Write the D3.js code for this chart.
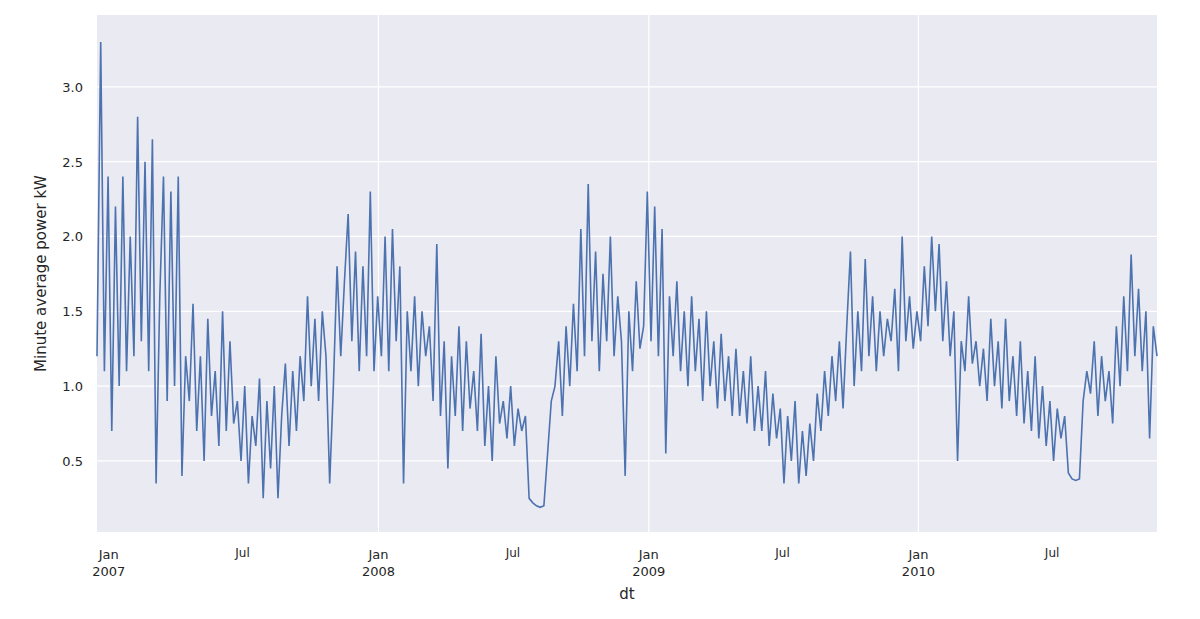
<!DOCTYPE html>
<html><head><meta charset="utf-8">
<script src="https://cdn.jsdelivr.net/npm/d3@7"></script>
<style>body{margin:0;background:#fff}text{font-family:"DejaVu Sans",sans-serif;fill:#262626}</style>
</head><body><svg id="c" width="1200" height="619"></svg>
<script>
// values every 5 days, starting 2006-12-16
var startDate = new Date(2006, 11, 16);
var stepDays = 5;
var kw2007 = [1.2,3.3,1.1,2.4, 0.7,2.2,1.0,2.4,1.1,2.0, 1.2,2.8,1.3,2.5,1.1,2.65, 0.35,1.6,2.4,0.9,
  2.3,1.0,2.4,0.4,1.2,0.9, 1.55,0.7,1.2,0.5,1.45,0.8, 1.1,0.6,1.5,0.7,1.3,0.75, 0.9,0.5,1.0,0.35,0.8,0.6,
  1.05,0.25,0.9,0.45,1.0,0.25, 0.8,1.15,0.6,1.1,0.7,1.2, 0.9,1.6,1.0,1.45,0.9,1.5, 1.2,0.35,1.0,1.8,
  1.2,1.7,2.15,1.3,1.9,1.1, 1.8,1.2,2.3,1.1];
var kw2008 = [1.6,1.2,2.0,1.1,2.05,1.3, 1.8,0.35,1.5,1.1,1.6,1.0, 1.5,1.2,1.4,0.9,1.95,0.8, 1.3,0.45,1.2,0.8,1.4,0.7,
  1.3,0.85,1.1,0.7,1.35,0.6, 1.0,0.5,1.2,0.75,0.9,0.65, 1.0,0.6,0.85,0.7,0.8,0.25, 0.22,0.2,0.19,0.2,0.55,0.9,
  1.0,1.3,0.8,1.4,1.0,1.55, 1.1,2.05,1.2,2.35,1.3,1.9, 1.1,1.75,1.3,2.0,1.2,1.6, 1.3,0.4,1.5,1.1,1.7,1.25,1.4];
var kw2009 = [2.3,1.3,2.2,1.2,2.05,0.55, 1.6,1.2,1.7,1.1,1.5,1.0, 1.6,1.1,1.45,0.9,1.5,1.0, 1.3,0.85,1.35,0.9,1.2,0.8,
  1.25,0.8,1.1,0.75,1.2,0.7, 1.0,0.7,1.1,0.6,0.95,0.65, 0.85,0.35,0.8,0.5,0.9,0.35, 0.7,0.4,0.75,0.5,0.95,0.7,
  1.1,0.8,1.2,0.9,1.3,0.85, 1.4,1.9,1.0,1.5,1.1,1.85, 1.2,1.6,1.1,1.5,1.2,1.45, 1.3,1.65,1.1,2.0,1.3,1.6,1.25];
var kw2010 = [1.5,1.3,1.8,1.4,2.0,1.5, 1.95,1.3,1.7,1.2,1.5,0.5, 1.3,1.1,1.6,1.15,1.3,1.0, 1.25,0.9,1.45,1.0,1.3,0.85,
  1.45,0.9,1.2,0.8,1.3,0.75, 1.1,0.7,1.2,0.65,1.0,0.6, 0.9,0.5,0.85,0.65,0.8,0.42, 0.38,0.37,0.38,0.9,1.1,0.95,
  1.3,0.8,1.2,0.9,1.1,0.75, 1.4,1.0,1.6,1.1,1.88,1.2, 1.65,1.1,1.5,0.65,1.4,1.2];
var yTicks = [0.5, 1.0, 1.5, 2.0, 2.5, 3.0];

var values = kw2007.concat(kw2008, kw2009, kw2010);
var data = values.map(function(v, i) {
  return {d: d3.timeDay.offset(startDate, i * stepDays), v: v};
});

var pl = 97, pr = 1157, pt = 15, pb = 532;
var svg = d3.select("#c");
svg.append("rect").attr("x", pl).attr("y", pt).attr("width", pr - pl).attr("height", pb - pt).attr("fill", "#EAEAF2");

var x = d3.scaleTime().domain([startDate, data[data.length - 1].d]).range([pl, pr]);
var y = d3.scaleLinear().domain([0.025, 3.48]).range([pb, pt]);

var years = d3.timeYear.range(new Date(2007, 0, 1), new Date(2011, 0, 1));
var julys = years.map(function(d) { return new Date(d.getFullYear(), 6, 1); });

svg.selectAll(".hg").data(yTicks).enter().append("line")
  .attr("x1", pl).attr("x2", pr).attr("y1", function(d){return y(d);}).attr("y2", function(d){return y(d);})
  .attr("stroke", "#fff").attr("stroke-width", 1.2);
svg.selectAll(".vg").data(years.filter(function(d){return x(d) > pl + 20;})).enter().append("line")
  .attr("y1", pt).attr("y2", pb).attr("x1", function(d){return x(d);}).attr("x2", function(d){return x(d);})
  .attr("stroke", "#fff").attr("stroke-width", 1.2);

svg.append("path").datum(data)
  .attr("d", d3.line().x(function(d){return x(d.d);}).y(function(d){return y(d.v);}))
  .attr("fill", "none").attr("stroke", "#4C72B0").attr("stroke-width", 1.6);

svg.selectAll(".yt").data(yTicks).enter().append("text")
  .attr("x", pl - 14).attr("y", function(d){return y(d) + 5;})
  .attr("text-anchor", "end").attr("font-size", 13).text(d3.format(".1f"));

var jan = svg.selectAll(".jt").data(years).enter().append("text")
  .attr("x", function(d){return x(d);}).attr("y", 559).attr("text-anchor", "middle").attr("font-size", 13);
jan.append("tspan").text("Jan");
jan.append("tspan").attr("x", function(d){return x(d);}).attr("dy", 17).text(function(d){return d.getFullYear();});
svg.selectAll(".jl").data(julys.filter(function(d){return x(d) < pr;})).enter().append("text")
  .attr("x", function(d){return x(d);}).attr("y", 557).attr("text-anchor", "middle").attr("font-size", 12).text("Jul");

svg.append("text").attr("x", (pl + pr) / 2).attr("y", 599).attr("text-anchor", "middle").attr("font-size", 15).text("dt");
svg.append("text").attr("transform", "translate(46," + ((pt + pb) / 2) + ") rotate(-90)")
  .attr("text-anchor", "middle").attr("font-size", 15).text("Minute average power kW");
</script></body></html>
